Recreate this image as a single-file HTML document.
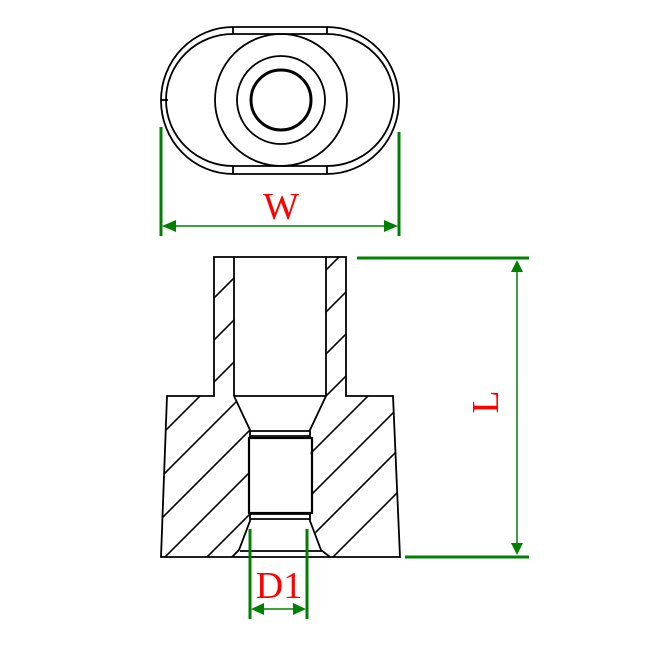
<!DOCTYPE html>
<html><head><style>html,body{margin:0;padding:0;background:#fff;width:650px;height:650px;overflow:hidden}svg{display:block;overflow:hidden}</style></head><body>
<svg width="650" height="650" viewBox="0 0 650 650" xmlns="http://www.w3.org/2000/svg">
<defs>
<clipPath id="hl"><polygon points="214,257 234,257 234,396 250,430 249,520 240,550 232,557 161,557 167,396 214,396"/></clipPath>
<clipPath id="hr"><polygon points="346,257 326,257 326,396 310,430 312,520 320,550 330,557 400,557 393,396 346,396"/></clipPath>
<g id="hatch" stroke="#000" stroke-width="1.6">
<line x1="0" y1="470" x2="470" y2="0"/><line x1="0" y1="512" x2="512" y2="0"/><line x1="0" y1="554" x2="554" y2="0"/><line x1="0" y1="596" x2="596" y2="0"/><line x1="0" y1="638" x2="638" y2="0"/><line x1="50" y1="630" x2="630" y2="50"/><line x1="100" y1="622" x2="622" y2="100"/><line x1="150" y1="614" x2="614" y2="150"/><line x1="200" y1="606" x2="606" y2="200"/><line x1="250" y1="598" x2="598" y2="250"/><line x1="300" y1="590" x2="590" y2="300"/>
</g>
</defs>
<!-- top view -->
<g fill="none" stroke="#000" stroke-width="1.8">
<path d="M233,27 L327,27 A72,73.5 0 0 1 327,174 L233,174 A72,73.5 0 0 1 233,27 Z"/>
<path d="M233,34 L327,34 A67,66 0 0 1 327,166 L233,166 A67,66 0 0 1 233,34 Z"/>
<line x1="233" y1="27" x2="233" y2="34"/><line x1="327" y1="27" x2="327" y2="34"/>
<line x1="233" y1="166" x2="233" y2="174"/><line x1="327" y1="166" x2="327" y2="174"/>
<line x1="161" y1="100" x2="168" y2="100"/>
<circle cx="281" cy="100" r="66"/>
<circle cx="281" cy="100" r="44"/>
<circle cx="281" cy="100" r="30" stroke-width="3"/>
</g>
<!-- section -->
<g clip-path="url(#hl)"><use href="#hatch"/></g>
<g clip-path="url(#hr)"><use href="#hatch"/></g>
<g fill="none" stroke="#000" stroke-width="1.8">
<polygon points="214,257 346,257 346,396 393,396 400,557 161,557 167,396 214,396"/>
<line x1="234" y1="257" x2="234" y2="396"/><line x1="326" y1="257" x2="326" y2="396"/>
<line x1="234" y1="396" x2="326" y2="396"/>
<polyline points="234,396 250,430 250,438"/><polyline points="326,396 310,430 310,438"/>
<line x1="250" y1="431" x2="310" y2="431"/><line x1="250" y1="436" x2="310" y2="436"/>
<rect x="249" y="438" width="63" height="75" stroke-width="2.2"/>
<line x1="250" y1="514" x2="310" y2="514"/><line x1="250" y1="519" x2="310" y2="519"/>
<polyline points="250,513 250,521 239,550 232,557"/><polyline points="310,513 310,521 321,550 330,557"/>
<line x1="240" y1="551" x2="322" y2="551"/>
</g>
<!-- dims -->
<g stroke="#008000" fill="#008000">
<line x1="161" y1="127" x2="161" y2="236" stroke-width="3"/>
<line x1="399" y1="132" x2="399" y2="236" stroke-width="3"/>
<line x1="170" y1="226" x2="390" y2="226" stroke-width="1.5"/>
<polygon points="162,226 176,220 176,232" stroke="none"/>
<polygon points="398,226 384,220 384,232" stroke="none"/>
<line x1="357" y1="258" x2="529" y2="258" stroke-width="3"/>
<line x1="405" y1="557" x2="529" y2="557" stroke-width="3"/>
<line x1="517" y1="265" x2="517" y2="550" stroke-width="1.5"/>
<polygon points="517,260 511,272 523,272" stroke="none"/>
<polygon points="517,555 511,543 523,543" stroke="none"/>
<line x1="250" y1="529" x2="250" y2="619" stroke-width="3"/>
<line x1="307" y1="529" x2="307" y2="619" stroke-width="3"/>
<line x1="255" y1="609" x2="302" y2="609" stroke-width="1.5"/>
<polygon points="251,609 264,603 264,615" stroke="none"/>
<polygon points="306,609 293,603 293,615" stroke="none"/>
</g>
<g fill="#ff0000" font-family="Liberation Serif, serif" text-anchor="middle">
<text x="281" y="219" font-size="38">W</text>
<text x="279" y="598" font-size="38">D1</text>
<text x="0" y="0" font-size="38" transform="translate(498,402) rotate(-90)">L</text>
</g>
</svg>
</body></html>
